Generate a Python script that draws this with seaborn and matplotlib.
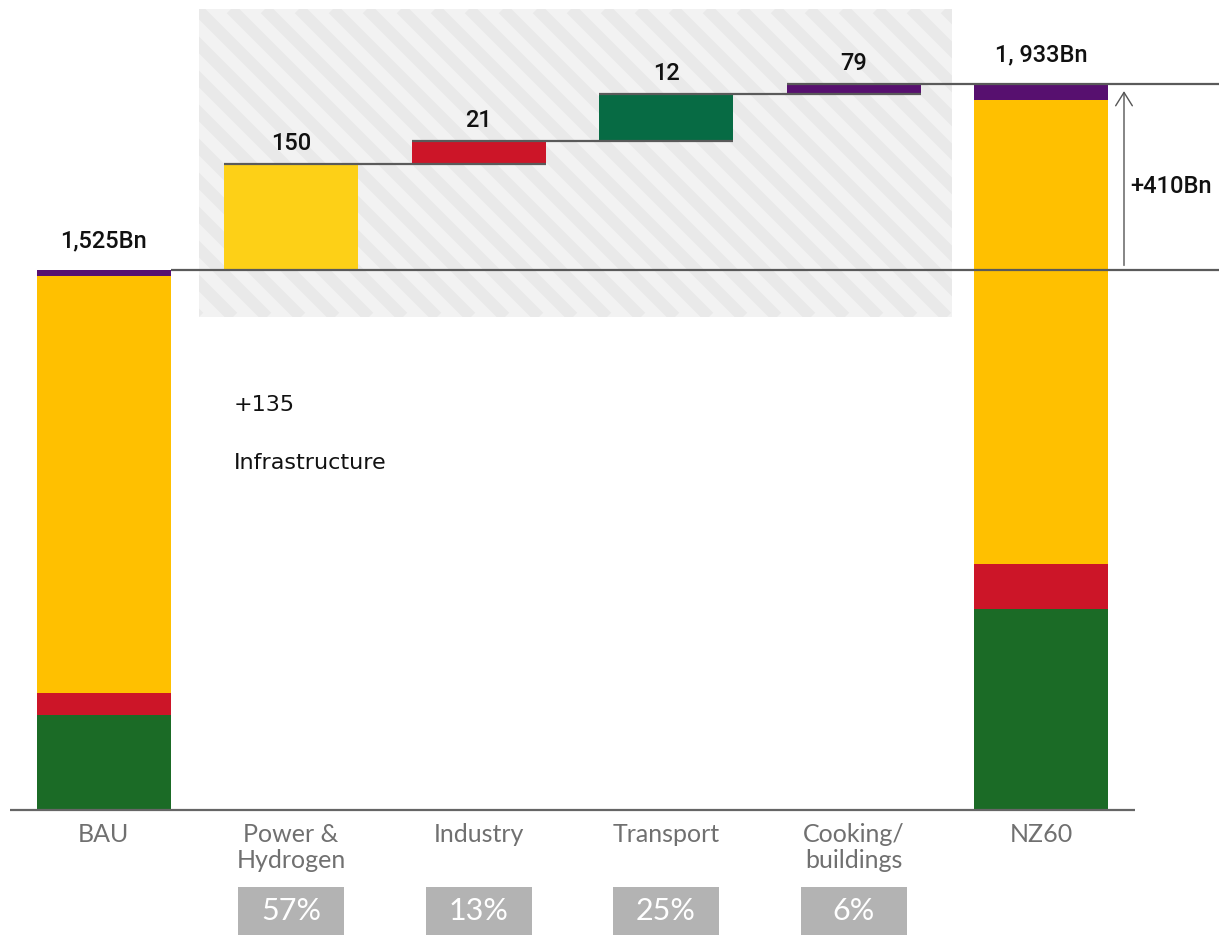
import matplotlib
matplotlib.use("Agg")
import matplotlib.pyplot as plt
from matplotlib.patches import Rectangle
import seaborn as sns
import numpy as np
import pandas as pd

# --- data (heights, labels as printed) ---
categories = ["BAU", "Power &\nHydrogen", "Industry", "Transport", "Cooking/\nbuildings", "NZ60"]
segments = ["Green", "Red", "Yellow", "Purple"]
bau_stack = [268, 62, 1178, 17]
nz60_stack = [568, 127, 1310, 45]
step_heights = [299, 65, 133, 28]
step_labels = ["150", "21", "12", "79"]
total_labels = ["1,525Bn", "1, 933Bn"]
share_labels = ["57%", "13%", "25%", "6%"]
diff_label = "+410Bn"
note_lines = ["+135", "Infrastructure"]

stack_colors = ["#1b6b26", "#cc1528", "#ffc000", "#57106f"]
step_colors = ["#fdd017", "#cc1528", "#076b44", "#57106f"]

sns.set_theme(style="white")
plt.rcParams["font.family"] = ["Roboto", "DejaVu Sans"]

fig = plt.figure(figsize=(12.19, 9.35), dpi=100)
ax = fig.add_axes([0, 0, 1, 1])
ax.axis("off")

# pixel helpers for layout (1 category = 187.5 px, 1 unit = 0.3541 px)
PX_X = 187.5
PX_Y = 0.3541
x_left = -103.5 / PX_X
x_right = (1219 - 103.5) / PX_X
y_top = 810 / PX_Y
y_bot = -(935 - 810) / PX_Y
bw = 134 / PX_X

# hatched background behind the steps
hx0, hx1 = (199 - 103.5) / PX_X, (952 - 103.5) / PX_X
hy0, hy1 = (810 - 317) / PX_Y, (810 - 9) / PX_Y
bg = Rectangle((hx0, hy0), hx1 - hx0, hy1 - hy0, facecolor="#f2f2f2", edgecolor="none", zorder=0)
ax.add_patch(bg)
h_px = 317 - 9
for x0 in np.arange(199 - h_px, 952 + 20, 34):
    xs = [(x0 - 103.5) / PX_X, (x0 + h_px - 103.5) / PX_X]
    ys = [hy1, hy0]
    ln, = ax.plot(xs, ys, color="#e9e9e9", lw=8.5, solid_capstyle="butt", zorder=0.5)
    ln.set_clip_path(bg)

# stacked totals drawn with seaborn, tallest layer first
stack_df = pd.DataFrame({"cat": ["BAU"] * 4 + ["NZ60"] * 4,
                         "seg": segments * 2,
                         "val": bau_stack + nz60_stack})
order = ["BAU", "s1", "s2", "s3", "s4", "NZ60"]
for k in range(len(segments) - 1, -1, -1):
    cum = stack_df.groupby("cat", sort=False)["val"].apply(lambda s: s.iloc[:k + 1].sum()).reset_index()
    sns.barplot(data=cum, x="cat", y="val", order=order, color=stack_colors[k],
                saturation=1, width=bw, linewidth=0, ax=ax, zorder=2)

# waterfall steps
levels = np.cumsum([sum(bau_stack)] + step_heights)
ax.bar(range(1, 5), step_heights, bottom=levels[:-1], width=bw, color=step_colors,
       linewidth=0, zorder=2)

# connector lines
lc = "#5a5a5a"
ax.hlines(levels[0], 0 + bw / 2, x_right, color=lc, lw=1.6, zorder=3)
for i in range(1, 4):
    ax.hlines(levels[i], i - bw / 2, i + 1 + bw / 2, color=lc, lw=1.6, zorder=3)
ax.hlines(levels[4], 4 - bw / 2, x_right, color=lc, lw=1.6, zorder=3)
ax.hlines(0, -0.5, 5.5, color="#666666", lw=1.6, zorder=3)

# value labels
val_kw = dict(fontsize=17, fontweight="medium", color="#111111")
for i, lab in enumerate(step_labels):
    ax.annotate(lab, (i + 1, levels[i + 1]), xytext=(0, 15), textcoords="offset points",
                ha="center", va="center", **val_kw)
ax.annotate(total_labels[0], (0, levels[0]), xytext=(0, 21), textcoords="offset points",
            ha="center", va="center", **val_kw)
ax.annotate(total_labels[1], (5, sum(nz60_stack)), xytext=(0, 21), textcoords="offset points",
            ha="center", va="center", **val_kw)

# difference arrow
xa = (1124 - 103.5) / PX_X
ax.annotate("", xy=(xa, sum(nz60_stack) - 12), xytext=(xa, levels[0] + 5),
            arrowprops=dict(arrowstyle="->,head_width=0.5,head_length=0.8", color="#555555", lw=1))
ax.text((1130 - 103.5) / PX_X, (810 - 187) / PX_Y, diff_label, ha="left", va="center", **val_kw)

# note text
note_kw = dict(fontsize=16, fontweight="normal", color="#111111", family=["DejaVu Sans"])
ax.text((234 - 103.5) / PX_X, (810 - 405) / PX_Y, note_lines[0], ha="left", va="center", **note_kw)
ax.text((234 - 103.5) / PX_X, (810 - 463) / PX_Y, note_lines[1], ha="left", va="center", **note_kw)

# category labels
for i, lab in enumerate(categories):
    ax.text(i, -(823 - 810) / PX_Y, lab, ha="center", va="top", fontsize=18,
            fontweight="normal", color="#707070", linespacing=1.15,
            family=["Lato", "DejaVu Sans"])

# share boxes
for i, lab in enumerate(share_labels):
    bx = i + 1
    ax.add_patch(Rectangle((bx - 53 / PX_X, y_bot), 106 / PX_X, 48 / PX_Y,
                           facecolor="#b3b3b3", edgecolor="none", zorder=2))
    ax.text(bx, -(911 - 810) / PX_Y, lab, ha="center", va="center", fontsize=22,
            fontweight="normal", color="white", family=["Lato", "DejaVu Sans"], zorder=3)

ax.set_xlim(x_left, x_right)
ax.set_ylim(y_bot, y_top)
ax.set_xticks([])
ax.set_yticks([])

fig.savefig("out.png", dpi=100)
